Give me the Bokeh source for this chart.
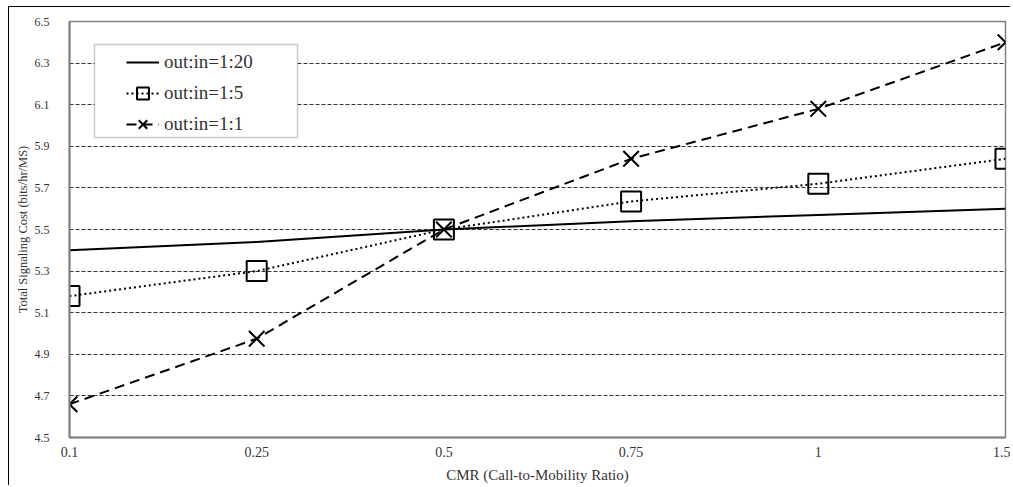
from bokeh.plotting import figure
from bokeh.models import (FixedTicker, Legend, LegendItem, BoxAnnotation, Range1d)
from bokeh.embed import file_html
from bokeh.resources import INLINE

# ---- data ----
cmr_labels = ["0.1", "0.25", "0.5", "0.75", "1", "1.5"]
cost_1_20 = [5.40, 5.44, 5.50, 5.54, 5.57, 5.60]
cost_1_5 = [5.18, 5.30, 5.50, 5.635, 5.72, 5.84]
cost_1_1 = [4.66, 4.975, 5.50, 5.84, 6.08, 6.40]
series_names = ["out:in=1:20", "out:in=1:5", "out:in=1:1"]
y_ticks = [4.5, 4.7, 4.9, 5.1, 5.3, 5.5, 5.7, 5.9, 6.1, 6.3, 6.5]

xs = list(range(len(cmr_labels)))

FONT = "Liberation Serif"
TXT = "#333333"

p = figure(width=1002, height=479, output_backend="svg", toolbar_location=None,
           x_range=Range1d(xs[0], xs[-1]), y_range=Range1d(y_ticks[0], y_ticks[-1]),
           min_border_left=60, min_border_right=6, min_border_top=14, min_border_bottom=49)
p.styles = {"margin-left": "8px", "margin-top": "6px",
            "border-top": "1px solid black", "border-left": "1px solid black"}
p.background_fill_color = "white"
p.border_fill_color = "white"
p.outline_line_color = "#808080"
p.outline_line_width = 1.5

# axes
p.xaxis.ticker = FixedTicker(ticks=xs)
p.xaxis.major_label_overrides = {i: lab for i, lab in zip(xs, cmr_labels)}
p.yaxis.ticker = FixedTicker(ticks=y_ticks)
for ax in (p.xaxis[0], p.yaxis[0]):
    ax.axis_line_color = "#808080"
    ax.axis_line_width = 2
    ax.major_tick_out = 0
    ax.major_tick_in = 0
    ax.minor_tick_out = 0
    ax.minor_tick_in = 0
    ax.major_label_text_font = FONT
    ax.major_label_text_color = TXT
    ax.axis_label_text_font = FONT
    ax.axis_label_text_font_style = "normal"
    ax.axis_label_text_color = TXT
p.xaxis.major_label_text_font_size = "14px"
p.yaxis.major_label_text_font_size = "12px"
p.xaxis.axis_label = "CMR (Call-to-Mobility Ratio)"
p.xaxis.axis_label_text_font_size = "15px"
p.xaxis.major_label_standoff = 9
p.xaxis.axis_label_standoff = 7
p.yaxis.axis_label = "Total Signaling Cost (bits/hr/MS)"
p.yaxis.axis_label_text_font_size = "12.5px"
p.yaxis.major_label_standoff = 20
p.yaxis.axis_label_standoff = 2

p.xgrid.grid_line_color = None
p.ygrid.grid_line_color = "#333333"
p.ygrid.grid_line_dash = "4 2"
p.ygrid.grid_line_width = 1

# series
r1 = p.line(xs, cost_1_20, line_color="black", line_width=2)
r2l = p.line(xs, cost_1_5, line_color="black", line_width=2, line_dash="2 3")
r2m = p.scatter(xs, cost_1_5, marker="square", size=20, fill_color=None,
                line_color="black", line_width=2)
r3l = p.line(xs, cost_1_1, line_color="black", line_width=2, line_dash="10 6")
r3m = p.scatter(xs, cost_1_1, marker="x", size=22, line_color="black", line_width=2)

# legend frame
box = BoxAnnotation(left=25, right=228, top=393, bottom=300,
                    left_units="screen", right_units="screen",
                    top_units="screen", bottom_units="screen",
                    fill_color="white", fill_alpha=1.0,
                    line_color="#555555", line_width=1.5)
p.add_layout(box)

legend = Legend(items=[
    LegendItem(label=series_names[0], renderers=[r1]),
    LegendItem(label=series_names[1], renderers=[r2l, r2m]),
    LegendItem(label=series_names[2], renderers=[r3l, r3m]),
], location=(55, 296))
legend.margin = 0
legend.padding = 2
legend.spacing = 1
legend.glyph_width = 33
legend.glyph_height = 30
legend.label_height = 30
legend.label_standoff = 5
legend.border_line_alpha = 0
legend.background_fill_alpha = 0
legend.label_text_font = FONT
legend.label_text_font_size = "19px"
legend.label_text_color = TXT
p.add_layout(legend)

open("out.html", "w").write(file_html(p, INLINE))
